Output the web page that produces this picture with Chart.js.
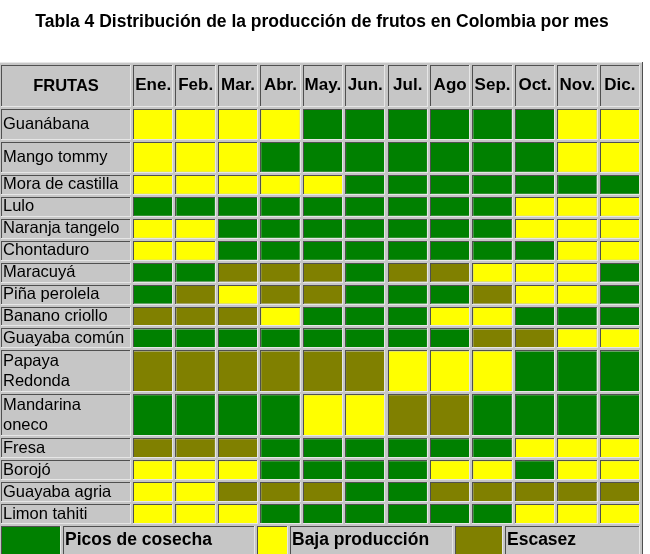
<!DOCTYPE html>
<html>
<head>
<meta charset="utf-8">
<script src="https://cdn.jsdelivr.net/npm/chart.js@4.4.1/dist/chart.umd.min.js"></script>
<style>
  html, body { margin: 0; padding: 0; background: #fff; }
  #wrap { width: 650px; height: 554px; }
</style>
</head>
<body>
<div id="wrap"><canvas id="frutas-chart"></canvas></div>
<script>
// Table columns
const months = ['Ene.', 'Feb.', 'Mar.', 'Abr.', 'May.', 'Jun.', 'Jul.', 'Ago', 'Sep.', 'Oct.', 'Nov.', 'Dic.'];

// Table rows (arrays are two-line labels)
const fruits = ['Guanábana', 'Mango tommy', 'Mora de castilla', 'Lulo', 'Naranja tangelo', 'Chontaduro',
    'Maracuyá', 'Piña perolela', 'Banano criollo', 'Guayaba común', ['Papaya', 'Redonda'],
    ['Mandarina', 'oneco'], 'Fresa', 'Borojó', 'Guayaba agria', 'Limon tahiti'];

// One letter per month: P = picos de cosecha, B = baja producción, E = escasez
const status = [
    'BBBBPPPPPPBB', // Guanábana
    'BBBPPPPPPPBB', // Mango tommy
    'BBBBBPPPPPPP', // Mora de castilla
    'PPPPPPPPPBBB', // Lulo
    'BBPPPPPPPBBB', // Naranja tangelo
    'BBPPPPPPPPBB', // Chontaduro
    'PPEEEPEEBBBP', // Maracuyá
    'PEBEEPPPEBBP', // Piña perolela
    'EEEBPPPBBPPP', // Banano criollo
    'PPPPPPPPEEBB', // Guayaba común
    'EEEEEEBBBPPP', // Papaya Redonda
    'PPPPBBEEPPPP', // Mandarina oneco
    'EEEPPPPPPBBB', // Fresa
    'BBBPPPPBBPBB', // Borojó
    'BBEEEPPEEEEE', // Guayaba agria
    'BBBPPPPPPBBB'  // Limon tahiti
];

const statusCodes = ['P', 'B', 'E'];
const statusLabels = ['Picos de cosecha', 'Baja producción', 'Escasez'];

// ---- layout / style ----
const statusColors = ['#008000', '#ffff00', '#808000'];
const tableGray = '#c6c6c6';
const fontFamily = "'Liberation Sans', Arial, sans-serif";
const headerHeight = 44;
// row height in line units (first two rows and the two-line rows are taller)
const rowUnits = [1.5, 1.5, 1, 1, 1, 1, 1, 1, 1, 1, 2, 2, 1, 1, 1, 1];
// legend cell edges (last one is the table's right edge)
const legendEdges = [0, 62, 256, 289, 454, 504];

const rowEdges = [0];
rowUnits.forEach(u => rowEdges.push(rowEdges[rowEdges.length - 1] + u));
const rowCenters = rowUnits.map((u, i) => rowEdges[i] + u / 2);

// one floating-bar dataset per status, every cell spans its row on the y scale
const datasets = statusCodes.map((code, k) => {
    const points = [];
    status.forEach((row, r) => {
        row.split('').forEach((c, m) => {
            if (c === code) points.push({ x: months[m], y: [rowEdges[r], rowEdges[r + 1]] });
        });
    });
    return {
        label: statusLabels[k],
        data: points,
        backgroundColor: statusColors[k],
        borderColor: tableGray,
        borderWidth: 2,
        borderSkipped: false,
        inflateAmount: 0,
        grouped: false,
        barPercentage: 1,
        categoryPercentage: 1
    };
});

// inset border like an old html table cell
function cellEdges(ctx, l, t, r, b) {
    l = Math.round(l); t = Math.round(t); r = Math.round(r); b = Math.round(b);
    ctx.fillStyle = '#505050';
    ctx.fillRect(l + 1, t + 1, r - l - 2, 1);
    ctx.fillRect(l + 1, t + 1, 1, b - t - 2);
    ctx.fillStyle = '#e6e6e6';
    ctx.fillRect(l + 1, b - 2, r - l - 2, 1);
    ctx.fillRect(r - 2, t + 1, 1, b - t - 2);
}

const tablePlugin = {
    id: 'tableCells',
    beforeDraw(chart) {
        const { ctx, chartArea: area, scales: { x, y } } = chart;
        const headTop = area.top - headerHeight;
        const bottom = chart.height + 2;
        ctx.save();
        ctx.fillStyle = '#fff';
        ctx.fillRect(0, 0, chart.width, chart.height);
        ctx.fillStyle = tableGray;
        ctx.fillRect(0, headTop - 2, area.right + 2, bottom - headTop + 2);
        // outer table border
        ctx.fillStyle = '#e6e6e6';
        ctx.fillRect(0, headTop - 2, area.right + 2, 1);
        ctx.fillStyle = '#505050';
        ctx.fillRect(Math.round(area.right) + 1, headTop - 2, 1, bottom - headTop + 2);

        // header row
        cellEdges(ctx, 0, headTop, area.left, area.top);
        const colW = x.width / months.length;
        months.forEach((m, i) => {
            const c = x.getPixelForValue(i);
            cellEdges(ctx, c - colW / 2, headTop, c + colW / 2, area.top);
        });
        ctx.fillStyle = '#000';
        ctx.font = 'bold 16.5px ' + fontFamily;
        ctx.textAlign = 'center';
        ctx.textBaseline = 'middle';
        ctx.fillText('FRUTAS', area.left / 2, (headTop + area.top) / 2);

        // fruit name cells
        rowUnits.forEach((u, r) => {
            cellEdges(ctx, 0, y.getPixelForValue(rowEdges[r]), area.left, y.getPixelForValue(rowEdges[r + 1]));
        });

        // legend row
        const edges = legendEdges.concat([area.right]);
        const lTop = area.bottom;
        chart.data.datasets.forEach((ds, k) => {
            const sl = edges[2 * k], sr = edges[2 * k + 1], tr = edges[2 * k + 2];
            cellEdges(ctx, sl, lTop, sr, bottom);
            ctx.fillStyle = ds.backgroundColor;
            ctx.fillRect(Math.round(sl) + 2, lTop + 2, Math.round(sr) - Math.round(sl) - 4, bottom - lTop - 4);
            cellEdges(ctx, sr, lTop, tr, bottom);
            ctx.fillStyle = '#000';
            ctx.font = 'bold 17.5px ' + fontFamily;
            ctx.textAlign = 'left';
            ctx.textBaseline = 'middle';
            ctx.fillText(ds.label, sr + 3, (lTop + chart.height) / 2 + 1);
        });
        ctx.restore();
    },
    afterDatasetsDraw(chart) {
        const ctx = chart.ctx;
        ctx.save();
        chart.data.datasets.forEach((ds, i) => {
            chart.getDatasetMeta(i).data.forEach(bar => {
                const p = bar.getProps(['x', 'y', 'base', 'width'], true);
                cellEdges(ctx, p.x - p.width / 2, Math.min(p.y, p.base), p.x + p.width / 2, Math.max(p.y, p.base));
            });
        });
        ctx.restore();
    }
};

Chart.defaults.color = '#000';
Chart.defaults.font.family = fontFamily;

new Chart(document.getElementById('frutas-chart'), {
    type: 'bar',
    data: { labels: months, datasets: datasets },
    plugins: [tablePlugin],
    options: {
        responsive: true,
        maintainAspectRatio: false,
        animation: false,
        layout: { padding: { left: 3, right: 9, bottom: 29, top: 0 } },
        scales: {
            x: {
                position: 'top',
                grid: { display: false, drawTicks: false },
                border: { display: false },
                ticks: { font: { size: 17, weight: 'bold' }, padding: 12, maxRotation: 0, autoSkip: false },
                afterFit: (scale) => { scale.height = headerHeight; }
            },
            y: {
                type: 'linear',
                reverse: true,
                min: 0,
                max: rowEdges[rowEdges.length - 1],
                grid: { display: false, drawTicks: false },
                border: { display: false },
                afterBuildTicks: (scale) => { scale.ticks = rowCenters.map(v => ({ value: v })); },
                ticks: {
                    autoSkip: false,
                    crossAlign: 'far',
                    padding: 0,
                    font: { size: 16.5 },
                    callback: (value, index) => fruits[index]
                },
                afterFit: (scale) => { scale.width = 129; }
            }
        },
        plugins: {
            legend: { display: false },
            tooltip: { enabled: false },
            title: {
                display: true,
                text: 'Tabla 4 Distribución de la producción de frutos en Colombia por mes',
                font: { size: 17.5, weight: 'bold' },
                color: '#000',
                padding: { top: 12, bottom: 31 }
            }
        }
    }
});
</script>
</body>
</html>
